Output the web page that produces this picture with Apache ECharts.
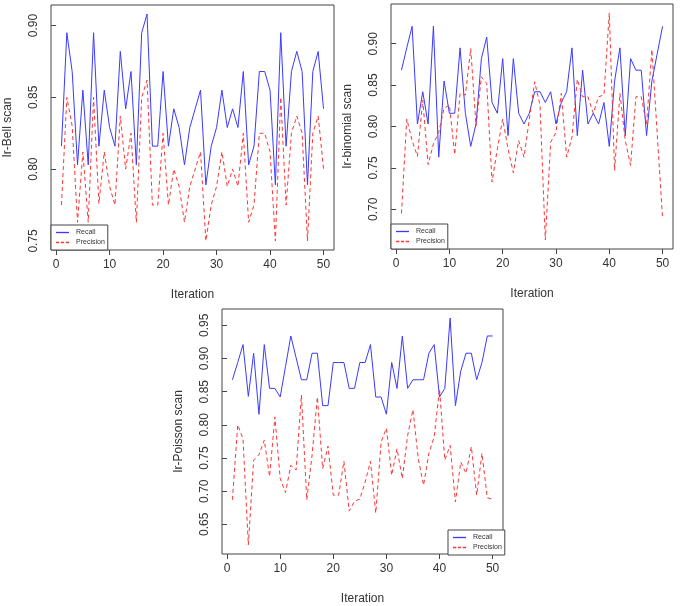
<!DOCTYPE html>
<html>
<head>
<meta charset="utf-8">
<script src="https://cdn.jsdelivr.net/npm/echarts@6/dist/echarts.min.js"></script>
<style>
html,body{margin:0;padding:0;background:#fff;}
#chart{width:680px;height:606px;}
</style>
</head>
<body>
<div id="chart"></div>
<script>
var iterations = [];
for (var i = 1; i <= 50; i++) iterations.push(i);

var bellRecall = [0.816,0.895,0.868,0.803,0.855,0.803,0.895,0.816,0.855,0.829,
  0.816,0.882,0.842,0.868,0.803,0.895,0.908,0.816,0.816,0.868,
  0.816,0.842,0.829,0.803,0.829,0.842,0.855,0.789,0.816,0.829,
  0.855,0.829,0.842,0.829,0.868,0.803,0.816,0.868,0.868,0.855,
  0.789,0.895,0.816,0.868,0.882,0.868,0.789,0.868,0.882,0.842];
var bellPrecision = [0.775,0.850,0.830,0.763,0.812,0.763,0.850,0.776,0.812,0.788,
  0.775,0.837,0.800,0.825,0.763,0.850,0.862,0.775,0.775,0.825,
  0.775,0.800,0.788,0.763,0.788,0.800,0.812,0.750,0.775,0.788,
  0.812,0.788,0.800,0.788,0.825,0.763,0.775,0.825,0.825,0.812,
  0.750,0.850,0.775,0.825,0.837,0.825,0.750,0.825,0.837,0.800];

var binomRecall = [0.868,0.895,0.921,0.803,0.842,0.803,0.921,0.763,0.855,0.816,
  0.816,0.895,0.816,0.776,0.803,0.882,0.908,0.829,0.816,0.882,
  0.789,0.882,0.816,0.803,0.816,0.842,0.842,0.829,0.842,0.803,
  0.829,0.842,0.895,0.789,0.868,0.803,0.816,0.803,0.829,0.776,
  0.855,0.895,0.789,0.882,0.868,0.868,0.789,0.855,0.888,0.921];
var binomPrecision = [0.695,0.809,0.783,0.764,0.832,0.754,0.779,0.793,0.822,0.826,
  0.766,0.840,0.838,0.894,0.801,0.860,0.852,0.733,0.773,0.809,
  0.773,0.744,0.783,0.763,0.809,0.854,0.826,0.663,0.781,0.793,
  0.840,0.763,0.787,0.857,0.836,0.836,0.816,0.836,0.838,0.937,
  0.747,0.840,0.783,0.753,0.836,0.836,0.803,0.893,0.791,0.689];

var poissonRecall = [0.868,0.894,0.921,0.843,0.908,0.816,0.921,0.855,0.855,0.842,
  0.888,0.934,0.901,0.868,0.868,0.908,0.908,0.829,0.829,0.894,
  0.894,0.894,0.855,0.855,0.894,0.894,0.921,0.842,0.842,0.816,
  0.894,0.855,0.934,0.855,0.868,0.868,0.868,0.908,0.921,0.842,
  0.855,0.961,0.829,0.881,0.908,0.908,0.868,0.894,0.934,0.934];
var poissonPrecision = [0.687,0.800,0.779,0.619,0.747,0.755,0.777,0.722,0.812,0.719,
  0.698,0.739,0.732,0.845,0.687,0.754,0.842,0.734,0.768,0.694,
  0.694,0.745,0.670,0.685,0.688,0.714,0.745,0.667,0.774,0.795,
  0.724,0.764,0.719,0.784,0.823,0.749,0.709,0.757,0.782,0.854,
  0.747,0.769,0.684,0.744,0.727,0.767,0.694,0.757,0.690,0.688];

var xTicks = [0, 10, 20, 30, 40, 50];
var bellTicks = [0.75, 0.80, 0.85, 0.90];
var binomTicks = [0.70, 0.75, 0.80, 0.85, 0.90];
var poissonTicks = [0.65, 0.70, 0.75, 0.80, 0.85, 0.90, 0.95];

var yNames = ['Ir-Bell scan', 'Ir-binomial scan', 'Ir-Poisson scan'];
var xName = 'Iteration';
var seriesNames = ['Recall', 'Precision'];

var FONT = '"Liberation Sans", Arial, sans-serif';
var TXT = '#333';
var BLUE = '#3a3aff';
var RED = '#ff3535';

function pairs(xs, ys) { return xs.map(function (x, k) { return [x, ys[k]]; }); }
function padRange(a, b) {
  var all = a.concat(b);
  var lo = Math.min.apply(null, all), hi = Math.max.apply(null, all);
  var d = (hi - lo) * 0.04;
  return [lo - d, hi + d];
}
var xPad = (iterations[iterations.length - 1] - iterations[0]) * 0.04;
var xMin = iterations[0] - xPad, xMax = iterations[iterations.length - 1] + xPad;

var panels = [
  {rec: bellRecall, pre: bellPrecision, ticks: bellTicks, grid: {left: 51, top: 5, width: 283, height: 245}},
  {rec: binomRecall, pre: binomPrecision, ticks: binomTicks, grid: {left: 391, top: 4, width: 282, height: 245}},
  {rec: poissonRecall, pre: poissonPrecision, ticks: poissonTicks, grid: {left: 222, top: 309, width: 281, height: 246}}
];

var grids = [], xAxes = [], yAxes = [], series = [];
panels.forEach(function (p, idx) {
  grids.push({left: p.grid.left, top: p.grid.top, width: p.grid.width, height: p.grid.height,
    show: true, borderColor: '#444', borderWidth: 1, backgroundColor: 'transparent'});
  xAxes.push({
    gridIndex: idx, type: 'value', min: xMin, max: xMax,
    name: xName, nameLocation: 'middle', nameGap: 39,
    nameTextStyle: {fontFamily: FONT, fontSize: 12, color: TXT},
    axisLine: {show: false}, splitLine: {show: false},
    axisTick: {show: true, length: 5, customValues: xTicks, lineStyle: {color: '#444'}},
    axisLabel: {customValues: xTicks, margin: 9, fontFamily: FONT, fontSize: 12, color: TXT,
      showMinLabel: true, showMaxLabel: true}
  });
  var r = padRange(p.rec, p.pre);
  yAxes.push({
    gridIndex: idx, type: 'value', min: r[0], max: r[1],
    name: yNames[idx], nameLocation: 'middle', nameGap: 37, nameRotate: 90,
    nameTextStyle: {fontFamily: FONT, fontSize: 12, color: TXT},
    axisLine: {show: false}, splitLine: {show: false},
    axisTick: {show: true, length: 5, customValues: p.ticks, lineStyle: {color: '#444'}},
    axisLabel: {customValues: p.ticks, rotate: 90, margin: 11, fontFamily: FONT, fontSize: 12, color: TXT,
      formatter: function (v) { return v.toFixed(2); }}
  });
  series.push({
    name: seriesNames[0], type: 'line', xAxisIndex: idx, yAxisIndex: idx,
    data: pairs(iterations, p.rec), showSymbol: false, symbol: 'none', animation: false,
    lineStyle: {color: BLUE, width: 1}, itemStyle: {color: BLUE}
  });
  series.push({
    name: seriesNames[1], type: 'line', xAxisIndex: idx, yAxisIndex: idx,
    data: pairs(iterations, p.pre), showSymbol: false, symbol: 'none', animation: false,
    lineStyle: {color: RED, width: 1, type: [4, 3]}, itemStyle: {color: RED}
  });
});

var solidIcon = 'path://M0,0h12v1.2h-12z';
var dashIcon = 'path://M0,0h3v1.2h-3zM4.5,0h3v1.2h-3zM9,0h3v1.2h-3z';

function legendAt(left, top) {
  return {
    left: left, top: top, orient: 'vertical',
    data: [
      {name: seriesNames[0], icon: solidIcon, itemStyle: {color: BLUE, borderWidth: 0, opacity: 1}, lineStyle: {width: 0, opacity: 0}},
      {name: seriesNames[1], icon: dashIcon, itemStyle: {color: RED, borderWidth: 0, opacity: 1}, lineStyle: {width: 0, opacity: 0}}
    ],
    itemWidth: 13, itemHeight: 8, itemGap: 3, padding: [4, 3, 4, 5],
    symbolKeepAspect: true,
    borderColor: '#444', borderWidth: 1, backgroundColor: '#fff',
    textStyle: {fontFamily: FONT, fontSize: 7, color: TXT, padding: [0, 0, 0, 2]},
    selectedMode: false
  };
}

var chart = echarts.init(document.getElementById('chart'), null, {renderer: 'canvas'});
chart.setOption({
  animation: false,
  backgroundColor: '#fff',
  grid: grids,
  xAxis: xAxes,
  yAxis: yAxes,
  legend: [legendAt(51, 225), legendAt(391, 224), legendAt(448, 530)],
  series: series
});
</script>
</body>
</html>
